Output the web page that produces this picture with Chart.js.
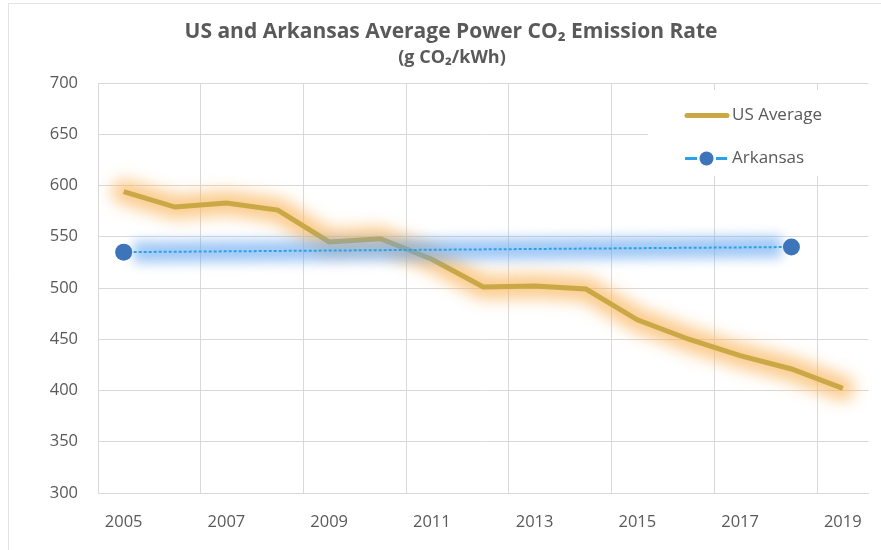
<!DOCTYPE html>
<html><head><meta charset="utf-8">
<script src="https://cdn.jsdelivr.net/npm/chart.js@4.4.1/dist/chart.umd.min.js"></script>
<style>html,body{margin:0;padding:0;background:#fff}#wrap{width:881px;height:550px;position:relative}</style>
</head><body><div id="wrap"><canvas id="c" width="881" height="550"></canvas></div>
<script>
const years = ['2005','2006','2007','2008','2009','2010','2011','2012','2013','2014','2015','2016','2017','2018','2019'];
const usAverage = [594,579,583,576,545,548,528,501,502,499,469,450,434,421,402];
const arkansas = [535,null,null,null,null,null,null,null,null,null,null,null,null,540,null];
const yMin = 300, yMax = 700, yStep = 50;
const titleText = 'US and Arkansas Average Power CO\u2082 Emission Rate';
const subtitleText = '(g CO\u2082/kWh)';
const seriesLabels = ['US Average','Arkansas'];

const FONT = "'Open Sans', 'Noto Sans', sans-serif";
const TXT = '#595959';
const GRID = '#d9d9d9';
const US_COLOR = '#C9A845';
const AR_LINE = '#2aa3e6';
const AR_DOT = '#3e75ba';

const framePlugin = {
  id: 'frame',
  beforeDraw(chart) {
    const ctx = chart.ctx;
    ctx.save();
    ctx.fillStyle = '#fff';
    ctx.fillRect(0, 0, chart.width, chart.height);
    ctx.strokeStyle = '#e3e3e3';
    ctx.lineWidth = 1;
    ctx.beginPath();
    ctx.moveTo(8.5, chart.height);
    ctx.lineTo(8.5, 3.5);
    ctx.lineTo(chart.width, 3.5);
    ctx.stroke();
    ctx.restore();
  }
};

const titlePlugin = {
  id: 'customTitle',
  afterDraw(chart) {
    const ctx = chart.ctx;
    ctx.save();
    ctx.fillStyle = TXT;
    ctx.textAlign = 'center';
    ctx.textBaseline = 'middle';
    ctx.font = "bold 21px " + FONT;
    ctx.fillText(titleText, 451, 32);
    ctx.font = "bold 18px " + FONT;
    ctx.fillText(subtitleText, 452, 58);
    ctx.restore();
  }
};

const glowPlugin = {
  id: 'glow',
  beforeDatasetDraw(chart, args) {
    const ds = chart.data.datasets[args.index];
    if (!ds.glowColor) return;
    const pts = args.meta.data.filter((p, i) => ds.data[i] !== null && ds.data[i] !== undefined);
    if (pts.length < 2) return;
    const ctx = chart.ctx;
    ctx.save();
    ctx.filter = 'blur(' + ds.glowBlur + 'px)';
    ctx.strokeStyle = ds.glowColor;
    ctx.lineWidth = ds.glowWidth;
    ctx.lineJoin = 'round';
    ctx.lineCap = ds.glowCap || 'round';
    ctx.beginPath();
    const inset = ds.glowInset || 0;
    pts.forEach((p, i) => {
      let x = p.x;
      if (i === 0) x += inset;
      if (i === pts.length - 1) x -= inset;
      if (i === 0) ctx.moveTo(x, p.y); else ctx.lineTo(x, p.y);
    });
    ctx.stroke();
    ctx.restore();
  }
};

const legendPlugin = {
  id: 'customLegend',
  afterDraw(chart) {
    const ctx = chart.ctx;
    const ds = chart.data.datasets;
    ctx.save();
    ctx.fillStyle = '#fff';
    ctx.fillRect(648, 90, 222, 86);
    ctx.strokeStyle = US_COLOR;
    ctx.lineWidth = 5;
    ctx.lineCap = 'round';
    ctx.beginPath();
    ctx.moveTo(687, 115.5);
    ctx.lineTo(727, 115.5);
    ctx.stroke();
    ctx.strokeStyle = AR_LINE;
    ctx.lineWidth = 3;
    ctx.lineCap = 'butt';
    ctx.beginPath();
    ctx.moveTo(685, 158.5); ctx.lineTo(697, 158.5);
    ctx.moveTo(716, 158.5); ctx.lineTo(727, 158.5);
    ctx.stroke();
    ctx.fillStyle = AR_DOT;
    ctx.beginPath();
    ctx.arc(706.5, 158.5, 7, 0, Math.PI * 2);
    ctx.fill();
    ctx.fillStyle = TXT;
    ctx.font = "17px " + FONT;
    ctx.textAlign = 'left';
    ctx.textBaseline = 'middle';
    ctx.fillText(ds[0].label, 732, 115);
    ctx.fillText(ds[1].label, 732, 158);
    ctx.restore();
  }
};

new Chart(document.getElementById('c'), {
  type: 'line',
  data: {
    labels: years,
    datasets: [
      {
        label: seriesLabels[0],
        data: usAverage,
        borderColor: US_COLOR,
        borderWidth: 5,
        pointRadius: 0,
        tension: 0,
        order: 2,
        glowColor: 'rgba(250,180,90,0.7)',
        glowWidth: 24,
        glowBlur: 8
      },
      {
        label: seriesLabels[1],
        data: arkansas,
        spanGaps: true,
        borderColor: AR_LINE,
        borderWidth: 2,
        borderDash: [3, 2],
        pointRadius: 8.5,
        pointHoverRadius: 8.5,
        pointBackgroundColor: AR_DOT,
        pointBorderWidth: 0,
        order: 1,
        glowColor: 'rgba(100,165,240,0.6)',
        glowWidth: 22,
        glowBlur: 6,
        glowCap: 'butt',
        glowInset: 10
      }
    ]
  },
  options: {
    responsive: false,
    animation: false,
    devicePixelRatio: 1,
    layout: { padding: { left: 0, right: 10, top: 83, bottom: 0 } },
    plugins: { legend: { display: false }, title: { display: false }, tooltip: { enabled: false } },
    scales: {
      x: {
        type: 'category',
        offset: true,
        grid: {
          offset: true,
          drawTicks: false,
          color: (c) => (c.index !== undefined && c.index % 2 === 0) ? GRID : 'rgba(0,0,0,0)',
          lineWidth: 1
        },
        border: { color: GRID },
        ticks: {
          autoSkip: false,
          maxRotation: 0,
          minRotation: 0,
          padding: 19,
          color: TXT,
          font: { family: FONT, size: 16.5 },
          callback: (v, i) => (i % 2 === 0 ? years[i] : '')
        },
        afterFit: (s) => { s.height = 57; }
      },
      y: {
        min: yMin,
        max: yMax,
        ticks: {
          stepSize: yStep,
          padding: 20,
          color: TXT,
          font: { family: FONT, size: 16.5 }
        },
        grid: { color: GRID, drawTicks: false },
        border: { color: GRID },
        afterFit: (s) => { s.width = 98; }
      }
    }
  },
  plugins: [framePlugin, glowPlugin, titlePlugin, legendPlugin]
});
</script>
</body></html>
